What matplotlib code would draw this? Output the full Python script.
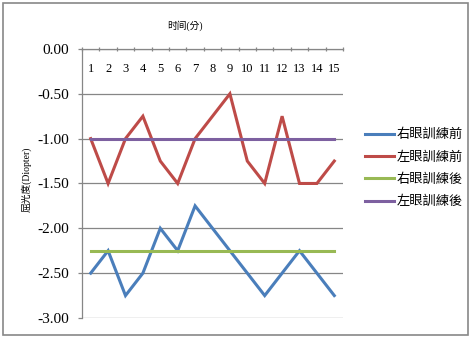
import matplotlib.pyplot as plt
from matplotlib.patches import Rectangle
from matplotlib.ticker import FormatStrFormatter

plt.rcParams['font.family'] = ['Liberation Serif', 'Noto Sans CJK TC']

minutes = list(range(1, 16))
right_before = [-2.5, -2.25, -2.75, -2.5, -2.0, -2.25, -1.75, -2.0, -2.25, -2.5, -2.75, -2.5, -2.25, -2.5, -2.75]
left_before = [-1.0, -1.5, -1.0, -0.75, -1.25, -1.5, -1.0, -0.75, -0.5, -1.25, -1.5, -0.75, -1.5, -1.5, -1.25]
right_after = [-2.25] * 15
left_after = [-1.0] * 15

names = ['右眼訓練前', '左眼訓練前', '右眼訓練後', '左眼訓練後']
colors = ['#4A7EBB', '#BE4B48', '#98B954', '#7D60A0']
series = [right_before, left_before, right_after, left_after]

fig = plt.figure(figsize=(4.72, 3.38), dpi=100)
ax = fig.add_axes([0.1737, 0.0592, 0.553, 0.796])

for vals, name, c in zip(series, names, colors):
    ax.plot(minutes, vals, color=c, lw=2.2, label=name, solid_joinstyle='miter')

ax.set_xlim(0.5, 15.5)
ax.set_ylim(-3.0, 0.0)
ax.set_yticks([-3.0, -2.5, -2.0, -1.5, -1.0, -0.5, 0.0])
ax.yaxis.set_major_formatter(FormatStrFormatter('%.2f'))
ax.grid(axis='y', color='#868686', lw=0.9)
ax.set_axisbelow(True)

ax.xaxis.tick_top()
ax.set_xticks(minutes)
ax.set_xticks([m + 0.5 for m in range(0, 16)], minor=True)
ax.tick_params(axis='x', which='major', length=0, pad=-19, labelsize=9)
ax.tick_params(axis='x', which='minor', length=3, direction='inout', color='#868686', width=0.9)
ax.tick_params(axis='y', length=3, color='#868686', width=0.9, labelsize=11, pad=6)

for s in ['right', 'bottom']:
    ax.spines[s].set_visible(False)
for s in ['left', 'top']:
    ax.spines[s].set_color('#868686')
    ax.spines[s].set_linewidth(0.9)

fig.text(0.392, 0.925, '时间(分)', fontsize=7, ha='center', va='center')
fig.text(0.057, 0.47, '屈光度(Diopter)', fontsize=7, ha='center', va='center', rotation=90)

ax.legend(loc='upper left', bbox_to_anchor=(0.762, 0.635), bbox_transform=fig.transFigure,
          frameon=False, fontsize=9.5, handlelength=2.2, handletextpad=0.2, labelspacing=0.75,
          borderaxespad=0)

fig.patches.append(Rectangle((0.006, 0.009), 0.985, 0.982, transform=fig.transFigure,
                             fill=False, edgecolor='#888888', lw=1.2))

fig.savefig('out.png', dpi=100)
